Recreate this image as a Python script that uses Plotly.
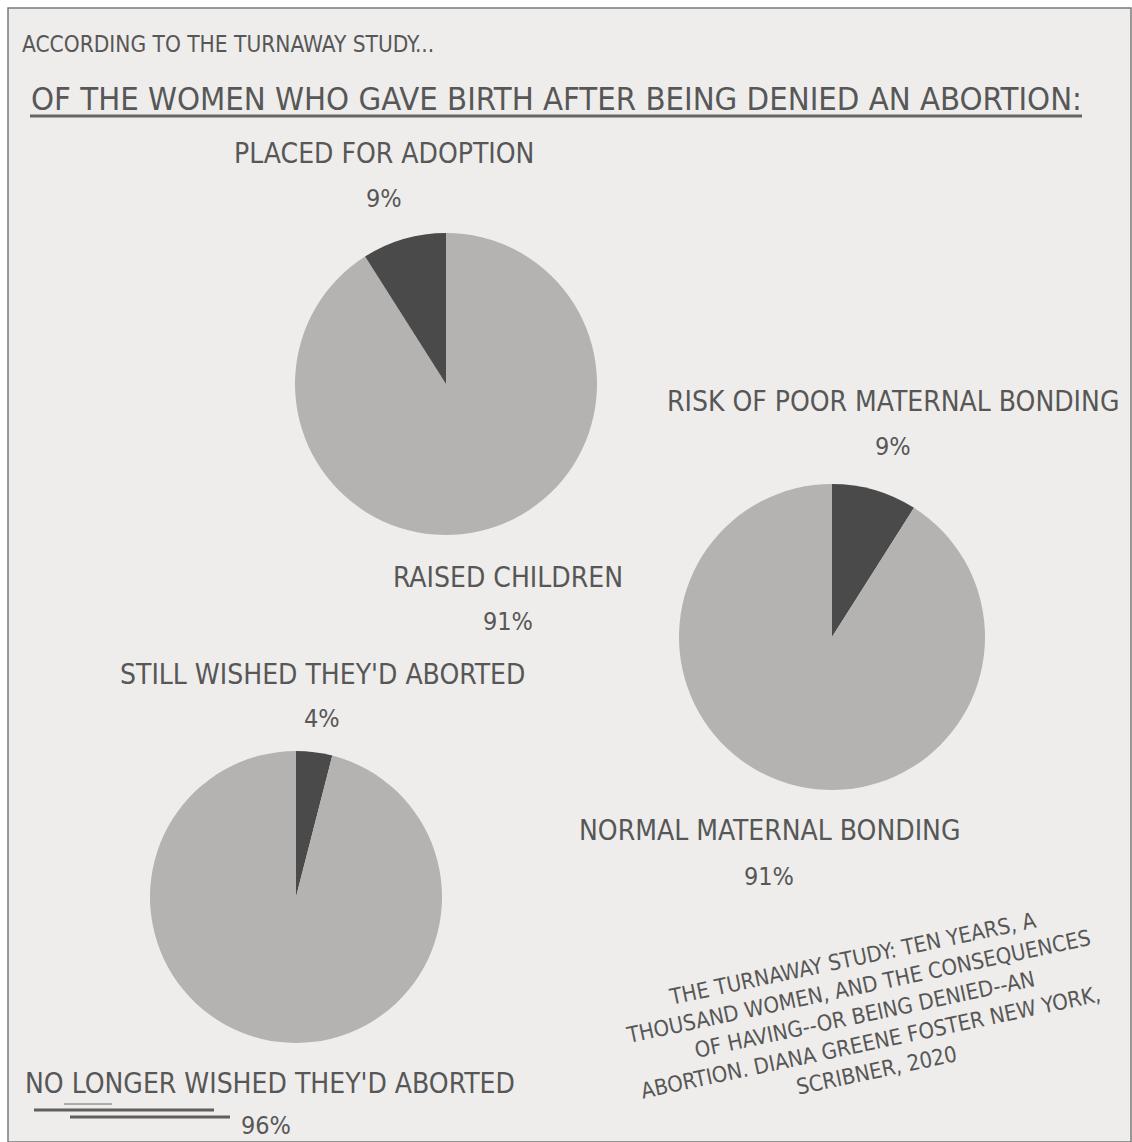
import plotly.graph_objects as go

W, H = 1132, 1142

# ---- data ----
adoption_labels = ["PLACED FOR ADOPTION", "RAISED CHILDREN"]
adoption_values = [9, 91]
bonding_labels = ["RISK OF POOR MATERNAL BONDING", "NORMAL MATERNAL BONDING"]
bonding_values = [9, 91]
regret_labels = ["STILL WISHED THEY'D ABORTED", "NO LONGER WISHED THEY'D ABORTED"]
regret_values = [4, 96]

intro_text = "ACCORDING TO THE TURNAWAY STUDY..."
title_text = "OF THE WOMEN WHO GAVE BIRTH AFTER BEING DENIED AN ABORTION:"
citation_lines = [
    "THE TURNAWAY STUDY: TEN YEARS, A",
    "THOUSAND WOMEN, AND THE CONSEQUENCES",
    "OF HAVING--OR BEING DENIED--AN",
    "ABORTION. DIANA GREENE FOSTER NEW YORK,",
    "SCRIBNER, 2020",
]

# ---- style ----
FONT = "DejaVu Sans Condensed, Liberation Sans Narrow, sans-serif"
TXT = "#575757"
DARK = "#4a4a4a"
LIGHT = "#b4b3b1"
PAPER = "#eeedeb"


def px(x):
    return x / W


def py(y):
    return 1 - y / H


def dom(cx, cy, r):
    return dict(x=[px(cx - r), px(cx + r)], y=[py(cy + r), py(cy - r)])


fig = go.Figure()

# (labels, values, domain, dark slice on left of 12 o'clock?)
pies = [
    (adoption_labels, adoption_values, dom(446, 384, 151), True),
    (bonding_labels, bonding_values, dom(832, 637, 153), False),
    (regret_labels, regret_values, dom(296, 897, 146), False),
]
for labels, values, d, dark_left in pies:
    colors = [DARK, LIGHT]
    if dark_left:
        labels, values, colors = labels[::-1], values[::-1], colors[::-1]
    fig.add_trace(go.Pie(
        labels=labels, values=values, domain=d, sort=False,
        direction="clockwise", rotation=0, textinfo="none",
        hoverinfo="label+percent",
        marker=dict(colors=colors, line=dict(width=0)),
        showlegend=False,
    ))

annotations = []


def label(text, x, y, size):
    annotations.append(dict(
        text=text, x=px(x), y=py(y), xref="paper", yref="paper",
        xanchor="center", yanchor="middle", showarrow=False,
        font=dict(family=FONT, size=size, color=TXT),
    ))


label(intro_text, 228, 44, 22.5)
label(title_text, 556, 99, 32.6)

# pie labels (name + percentage)
label_pos = [
    (adoption_labels[0], adoption_values[0], 384, 153, 198),
    (adoption_labels[1], adoption_values[1], 508, 577, 621),
    (bonding_labels[0], bonding_values[0], 893, 402, 447),
    (bonding_labels[1], bonding_values[1], 769, 830, 876),
    (regret_labels[0], regret_values[0], 322, 674, 718),
    (regret_labels[1], regret_values[1], 270, 1083, 1125),
]
for name, val, x, y1, y2 in label_pos:
    label(name, x, y1, 28)
    label(f"{val}%", x + (0 if val != 96 else -4), y2, 25)

annotations.append(dict(
    text="<br>".join(citation_lines), x=px(864), y=py(1014),
    xref="paper", yref="paper", xanchor="center", yanchor="middle",
    showarrow=False, align="center", textangle=-12,
    font=dict(family=FONT, size=22, color=TXT),
))

shapes = [
    # paper sheet with thin frame
    dict(type="rect", xref="paper", yref="paper", x0=px(8), x1=px(1131),
         y0=py(1142), y1=py(8), fillcolor=PAPER,
         line=dict(color="#7a7a7a", width=1.5), layer="below"),
    # title underline
    dict(type="line", xref="paper", yref="paper", x0=px(30), x1=px(1082),
         y0=py(116), y1=py(116), line=dict(color="#666666", width=3)),
    # brush underline under "NO LONGER"
    dict(type="line", xref="paper", yref="paper", x0=px(34), x1=px(214),
         y0=py(1110), y1=py(1110), line=dict(color="#5f5f5f", width=3)),
    dict(type="line", xref="paper", yref="paper", x0=px(70), x1=px(230),
         y0=py(1117), y1=py(1117), line=dict(color="#5f5f5f", width=3)),
    dict(type="line", xref="paper", yref="paper", x0=px(64), x1=px(112),
         y0=py(1104), y1=py(1104), line=dict(color="#6a6a6a", width=1)),
]

fig.update_layout(
    width=W, height=H,
    margin=dict(l=0, r=0, t=0, b=0),
    paper_bgcolor="#ffffff", plot_bgcolor="#ffffff",
    annotations=annotations, shapes=shapes,
)

fig.write_html(
    "out.html",
    config={"displayModeBar": False},
    post_script="document.body.style.margin='0';document.body.style.overflow='hidden';",
)
